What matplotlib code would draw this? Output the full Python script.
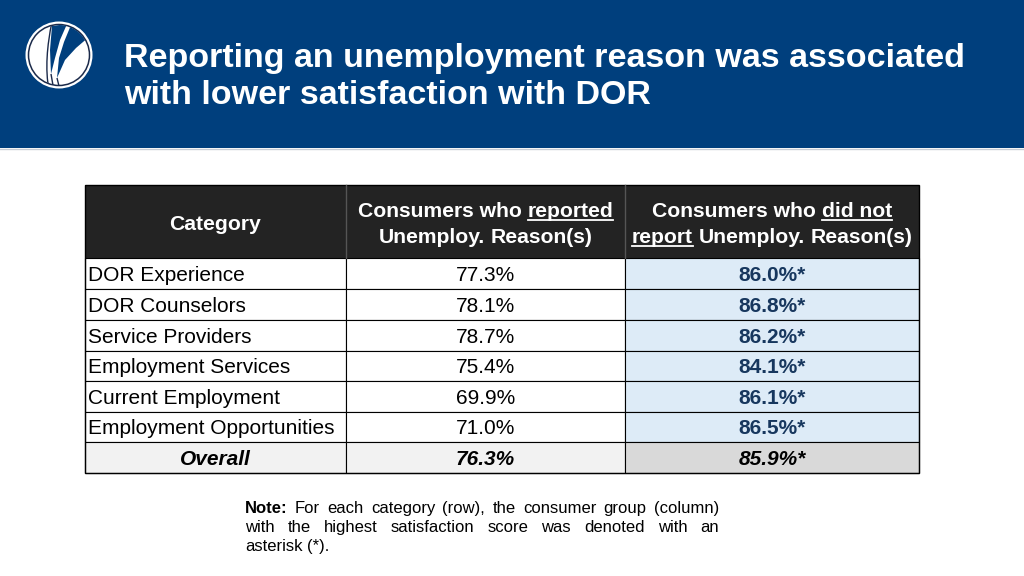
import matplotlib
matplotlib.use("Agg")
import matplotlib.pyplot as plt
from matplotlib.patches import Rectangle, Circle, Polygon
from matplotlib.path import Path
from matplotlib.patches import PathPatch

# ---------------- data ----------------
title_lines = ["Reporting an unemployment reason was associated",
               "with lower satisfaction with DOR"]
categories = ["DOR Experience", "DOR Counselors", "Service Providers",
              "Employment Services", "Current Employment",
              "Employment Opportunities"]
reported = ["77.3%", "78.1%", "78.7%", "75.4%", "69.9%", "71.0%"]
not_reported = ["86.0%*", "86.8%*", "86.2%*", "84.1%*", "86.1%*", "86.5%*"]
overall_label = "Overall"
overall_reported = "76.3%"
overall_not_reported = "85.9%*"
header_col1 = "Category"
header_col2 = [[("Consumers who", False), ("reported", True)],
               [("Unemploy.", False), ("Reason(s)", False)]]
header_col3 = [[("Consumers who", False), ("did not", True)],
               [("report", True), ("Unemploy.", False), ("Reason(s)", False)]]
note_lines = [["Note:", "For", "each", "category", "(row),", "the", "consumer",
               "group", "(column)"],
              ["with", "the", "highest", "satisfaction", "score", "was",
               "denoted", "with", "an"],
              ["asterisk", "(*)."]]

# ---------------- style ----------------
FONT = "Liberation Sans"
BAND = "#003F7D"
HEAD_BG = "#232323"
BLUE_CELL = "#DDEBF7"
OVR_BG = "#F2F2F2"
OVR_BG3 = "#D9D9D9"
NAVY_TXT = "#17375E"
LOGO_LINE = "#1B2A4A"

W, H = 1024, 576
fig = plt.figure(figsize=(W / 100, H / 100), dpi=100)
ax = fig.add_axes([0, 0, 1, 1])
ax.set_xlim(0, W)
ax.set_ylim(H, 0)
ax.axis("off")
renderer = fig.canvas.get_renderer()


def twidth(s, **kw):
    t = ax.text(0, 0, s, family=FONT, **kw)
    w = t.get_window_extent(renderer).width
    t.remove()
    return w


def cap_off(size):
    return 0.716 * size * 100 / 72 / 2


# header band
ax.add_patch(Rectangle((0, 0), W, 148, facecolor=BAND, edgecolor="none"))
ax.plot([0, W], [148.5, 148.5], color="#C8CDD6", lw=1)

# logo
cx, cy, r = 59, 55, 33.5
ax.add_patch(Circle((cx, cy), r, facecolor="white", edgecolor="none"))
ax.add_patch(Circle((cx, cy), r - 3, facecolor="none", edgecolor=LOGO_LINE, lw=1.1))
clip = Circle((cx, cy), r - 3.5, transform=ax.transData)
blade_a = Polygon([(52, 26), (67, 24), (60, 40), (55, 58), (51, 74), (50, 50)],
                  closed=True, facecolor=BAND, edgecolor="none")
blade_b = Polygon([(71, 25), (90, 36), (76, 48), (65, 60), (57, 78), (59, 58), (64, 42)],
                  closed=True, facecolor=BAND, edgecolor="none")
for p in (blade_a, blade_b):
    ax.add_patch(p)
    p.set_clip_path(clip)
for pts in ([(52, 22), (47, 45), (45, 70), (49, 90)],
            [(57, 78), (58, 82), (59, 86), (60, 90)],
            [(51, 74), (52, 80), (53, 85), (54, 90)]):
    path = Path(pts, [Path.MOVETO, Path.CURVE4, Path.CURVE4, Path.CURVE4])
    pp = PathPatch(path, facecolor="none", edgecolor=LOGO_LINE, lw=1.0)
    ax.add_patch(pp)
    pp.set_clip_path(clip)

# title
for i, line in enumerate(title_lines):
    ax.text(124, 55 + 37 * i + cap_off(24.5), line, family=FONT, fontsize=24.5,
            fontweight="bold", color="white", ha="left", va="baseline")

# ---------------- table ----------------
xs = [85, 346, 625, 919]
head_top, head_bot = 185, 258
row_bounds = [258, 289, 320, 351, 381, 412, 442, 473]
fs = 15

ax.add_patch(Rectangle((xs[0], head_top), xs[3] - xs[0], head_bot - head_top,
                       facecolor=HEAD_BG, edgecolor="none"))
for x in xs[1:3]:
    ax.plot([x, x], [head_top, head_bot], color="#555555", lw=1)

n = len(categories) + 1
for i in range(n):
    y0, y1 = row_bounds[i], row_bounds[i + 1]
    last = i == n - 1
    for j in range(3):
        if last:
            fc = OVR_BG3 if j == 2 else OVR_BG
        else:
            fc = BLUE_CELL if j == 2 else "white"
        ax.add_patch(Rectangle((xs[j], y0), xs[j + 1] - xs[j], y1 - y0,
                               facecolor=fc, edgecolor="black", lw=0.8))
    yc = (y0 + y1) / 2 + cap_off(fs)
    if not last:
        ax.text(88, yc, categories[i], family=FONT, fontsize=fs, color="black",
                ha="left", va="baseline")
        ax.text((xs[1] + xs[2]) / 2, yc, reported[i], family=FONT, fontsize=fs,
                color="black", ha="center", va="baseline")
        ax.text((xs[2] + xs[3]) / 2, yc, not_reported[i], family=FONT, fontsize=fs,
                color=NAVY_TXT, fontweight="bold", ha="center", va="baseline")
    else:
        ax.text((xs[0] + xs[1]) / 2, yc, overall_label, family=FONT, fontsize=fs,
                color="black", fontweight="bold", style="italic", ha="center", va="baseline")
        ax.text((xs[1] + xs[2]) / 2, yc, overall_reported, family=FONT, fontsize=fs,
                color="black", fontweight="bold", style="italic", ha="center", va="baseline")
        ax.text((xs[2] + xs[3]) / 2, yc, overall_not_reported, family=FONT, fontsize=fs,
                color="black", fontweight="bold", style="italic", ha="center", va="baseline")

# outer border
ax.add_patch(Rectangle((xs[0], head_top), xs[3] - xs[0], row_bounds[-1] - head_top,
                       facecolor="none", edgecolor="black", lw=1))

# header texts
hfs = 15.2
ax.text((xs[0] + xs[1]) / 2, 222 + cap_off(hfs), header_col1, family=FONT, fontsize=hfs,
        fontweight="bold", color="white", ha="center", va="baseline")
space_w = twidth("a a", fontsize=hfs, fontweight="bold") - twidth("aa", fontsize=hfs, fontweight="bold")


def header_cell(lines, xc):
    for k, segs in enumerate(lines):
        yb = 209 + 26 * k + cap_off(hfs)
        widths = [twidth(s, fontsize=hfs, fontweight="bold") for s, _ in segs]
        total = sum(widths) + space_w * (len(segs) - 1)
        x = xc - total / 2
        for (s, ul), w in zip(segs, widths):
            ax.text(x, yb, s, family=FONT, fontsize=hfs, fontweight="bold",
                    color="white", ha="left", va="baseline")
            if ul:
                ax.plot([x, x + w], [yb + 3, yb + 3], color="white", lw=1.3)
            x += w + space_w


header_cell(header_col2, (xs[1] + xs[2]) / 2)
header_cell(header_col3, (xs[2] + xs[3]) / 2)

# ---------------- note ----------------
nfs = 12
nx0, nx1 = 245, 719
for k, words in enumerate(note_lines):
    yb = 507 + 19 * k + cap_off(nfs)
    weights = ["bold" if (k == 0 and m == 0) else "normal" for m in range(len(words))]
    widths = [twidth(wd, fontsize=nfs, fontweight=wt) for wd, wt in zip(words, weights)]
    if k < len(note_lines) - 1:
        gap = (nx1 - nx0 - sum(widths)) / (len(words) - 1)
    else:
        gap = twidth("a a", fontsize=nfs) - twidth("aa", fontsize=nfs)
    x = nx0
    for wd, wt, w in zip(words, weights, widths):
        ax.text(x, yb, wd, family=FONT, fontsize=nfs, fontweight=wt, color="black",
                ha="left", va="baseline")
        x += w + gap

fig.savefig("out.png", dpi=100)
